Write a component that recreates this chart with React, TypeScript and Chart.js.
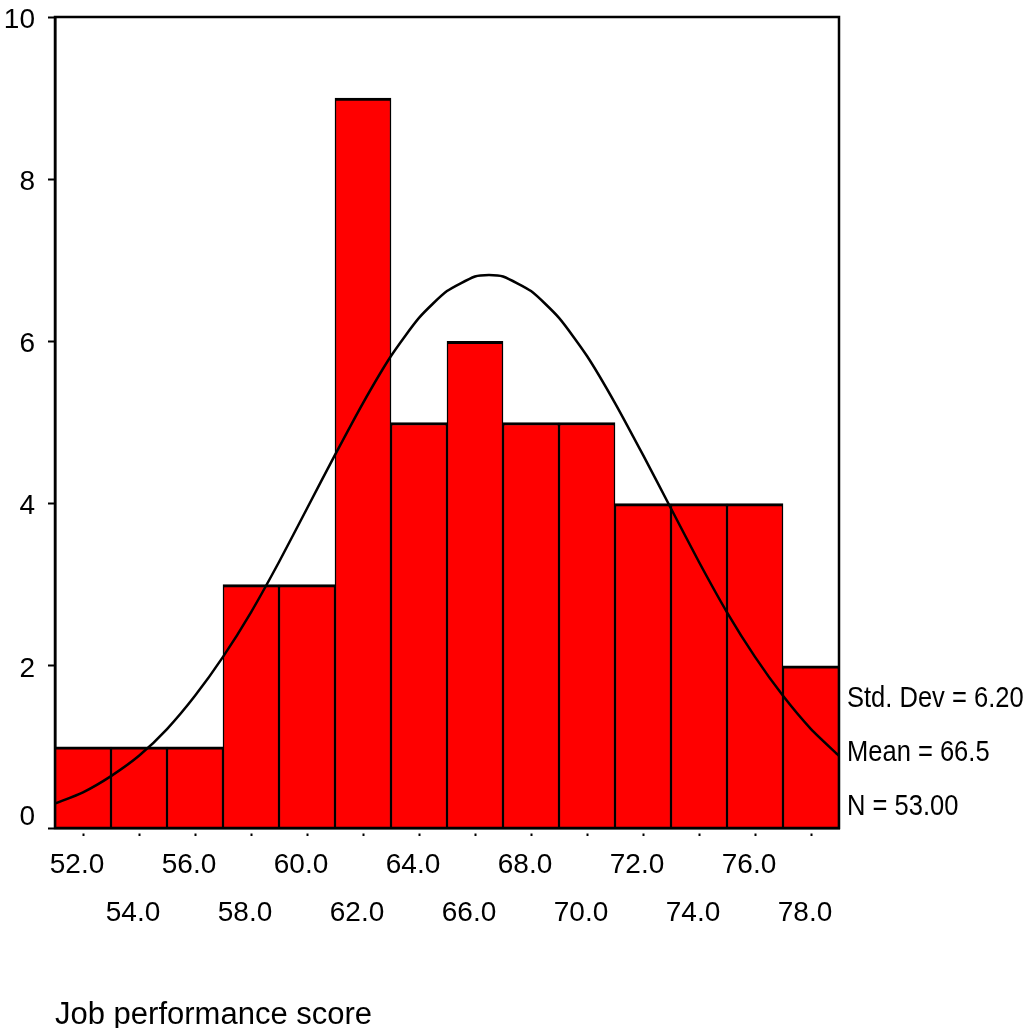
import React, { useEffect, useRef } from "react";
import { Chart, registerables } from "chart.js";

Chart.register(...registerables);

// Histogram bins (bin centres) and frequencies
const binCenters = [52, 54, 56, 58, 60, 62, 64, 66, 68, 70, 72, 74, 76, 78];
const frequencies = [1, 1, 1, 3, 3, 9, 5, 6, 5, 5, 4, 4, 4, 2];

// Normal curve
const curveX = [51, 52, 53, 54, 55, 56, 57, 58, 59, 60, 61, 62, 63, 64, 65, 66, 66.5, 67, 68, 69, 70, 71, 72, 73, 74, 75, 76, 77, 78, 79];
const curveY = [0.3, 0.44, 0.64, 0.89, 1.22, 1.63, 2.11, 2.66, 3.28, 3.94, 4.6, 5.24, 5.82, 6.29, 6.62, 6.8, 6.82, 6.8, 6.62, 6.29, 5.82, 5.24, 4.6, 3.94, 3.28, 2.66, 2.11, 1.63, 1.22, 0.89];

const xTickValues = [52, 54, 56, 58, 60, 62, 64, 66, 68, 70, 72, 74, 76, 78];
const yTickValues = [0, 2, 4, 6, 8, 10];
const statsLines = ["Std. Dev = 6.20", "Mean = 66.5", "N = 53.00"];
const axisTitle = "Job performance score";

const FONT = "'Liberation Sans', Arial, sans-serif";

export default function App() {
  const ref = useRef<HTMLCanvasElement | null>(null);

  useEffect(() => {
    if (!ref.current) return;

    const framePlugin = {
      id: "frameAndStats",
      afterDatasetsDraw(chart: any) {
        const { ctx, chartArea } = chart;
        ctx.save();
        ctx.strokeStyle = "#000";
        ctx.lineWidth = 2.5;
        ctx.strokeRect(chartArea.left, chartArea.top, chartArea.right - chartArea.left, chartArea.bottom - chartArea.top);
        ctx.restore();
      },
      afterDraw(chart: any) {
        const { ctx, chartArea } = chart;
        const ys = [699, 753, 807];
        statsLines.forEach((t, i) => {
          ctx.save();
          ctx.fillStyle = "#000";
          ctx.font = `29px ${FONT}`;
          ctx.textAlign = "left";
          ctx.textBaseline = "middle";
          ctx.translate(chartArea.right + 8, ys[i]);
          ctx.scale(0.88, 1);
          ctx.fillText(t, 0, 0);
          ctx.restore();
        });
      },
    };

    const chart = new Chart(ref.current, {
      type: "bar",
      data: {
        datasets: [
          {
            type: "line",
            data: curveX.map((x, i) => ({ x, y: curveY[i] })),
            borderColor: "#000",
            borderWidth: 2.5,
            pointRadius: 0,
            tension: 0.2,
            fill: false,
            order: 0,
          } as any,
          {
            type: "bar",
            data: binCenters.map((x, i) => ({ x, y: frequencies[i] })),
            backgroundColor: "#FF0000",
            borderColor: "#000",
            borderWidth: { top: 3, left: 1.5, right: 1.5, bottom: 0 },
            borderSkipped: false,
            barPercentage: 1,
            categoryPercentage: 1,
            order: 1,
          } as any,
        ],
      },
      options: {
        responsive: false,
        animation: false,
        layout: { padding: { left: 0, right: 195, top: 17, bottom: 0 } },
        plugins: {
          legend: { display: false },
          tooltip: { enabled: false },
          title: { display: false },
        },
        scales: {
          x: {
            type: "linear",
            min: 51,
            max: 79,
            offset: false,
            afterBuildTicks: (scale: any) => {
              scale.ticks = xTickValues.map((v) => ({ value: v }));
            },
            afterFit: (scale: any) => {
              scale.height = 200;
              scale.paddingLeft = 0;
              scale.paddingRight = 0;
            },
            ticks: {
              autoSkip: false,
              maxRotation: 0,
              minRotation: 0,
              padding: 5,
              labelOffset: -6,
              color: "#000",
              font: { family: FONT, size: 28, lineHeight: "48px" } as any,
              callback: (value: any) => {
                const v = Number(value);
                const label = v.toFixed(1);
                return Math.round((v - 52) / 2) % 2 === 0 ? [label, ""] : ["", label];
              },
            },
            grid: {
              offset: false,
              drawOnChartArea: false,
              drawTicks: true,
              tickLength: 8,
              tickColor: "#000",
              tickWidth: 2,
              tickBorderDash: [0, 4, 3, 20],
            } as any,
            border: { display: true, color: "#000", width: 2.5 },
            title: {
              display: true,
              text: axisTitle,
              align: "start",
              color: "#000",
              font: { family: FONT, size: 31, lineHeight: 1 },
              padding: { top: 0, bottom: -3 },
            },
          },
          y: {
            type: "linear",
            min: 0,
            max: 10,
            afterBuildTicks: (scale: any) => {
              scale.ticks = yTickValues.map((v) => ({ value: v }));
            },
            afterFit: (scale: any) => {
              scale.width = 55;
              scale.paddingTop = 0;
              scale.paddingBottom = 0;
            },
            ticks: {
              padding: 13,
              labelOffset: 3,
              color: "#000",
              font: { family: FONT, size: 28, lineHeight: "28px" } as any,
              callback: (value: any) => (Number(value) === 0 ? ["0", ""] : String(value)),
            },
            grid: {
              drawOnChartArea: false,
              drawTicks: true,
              tickLength: 7,
              tickColor: "#000",
              tickWidth: 2,
            },
            border: { display: true, color: "#000", width: 2.5 },
          },
        },
      },
      plugins: [framePlugin],
    });

    return () => chart.destroy();
  }, []);

  return (
    <div style={{ position: "absolute", left: 0, top: 0, width: 1034, height: 1028, background: "#fff" }}>
      <canvas ref={ref} width={1034} height={1028} style={{ display: "block" }} />
    </div>
  );
}
